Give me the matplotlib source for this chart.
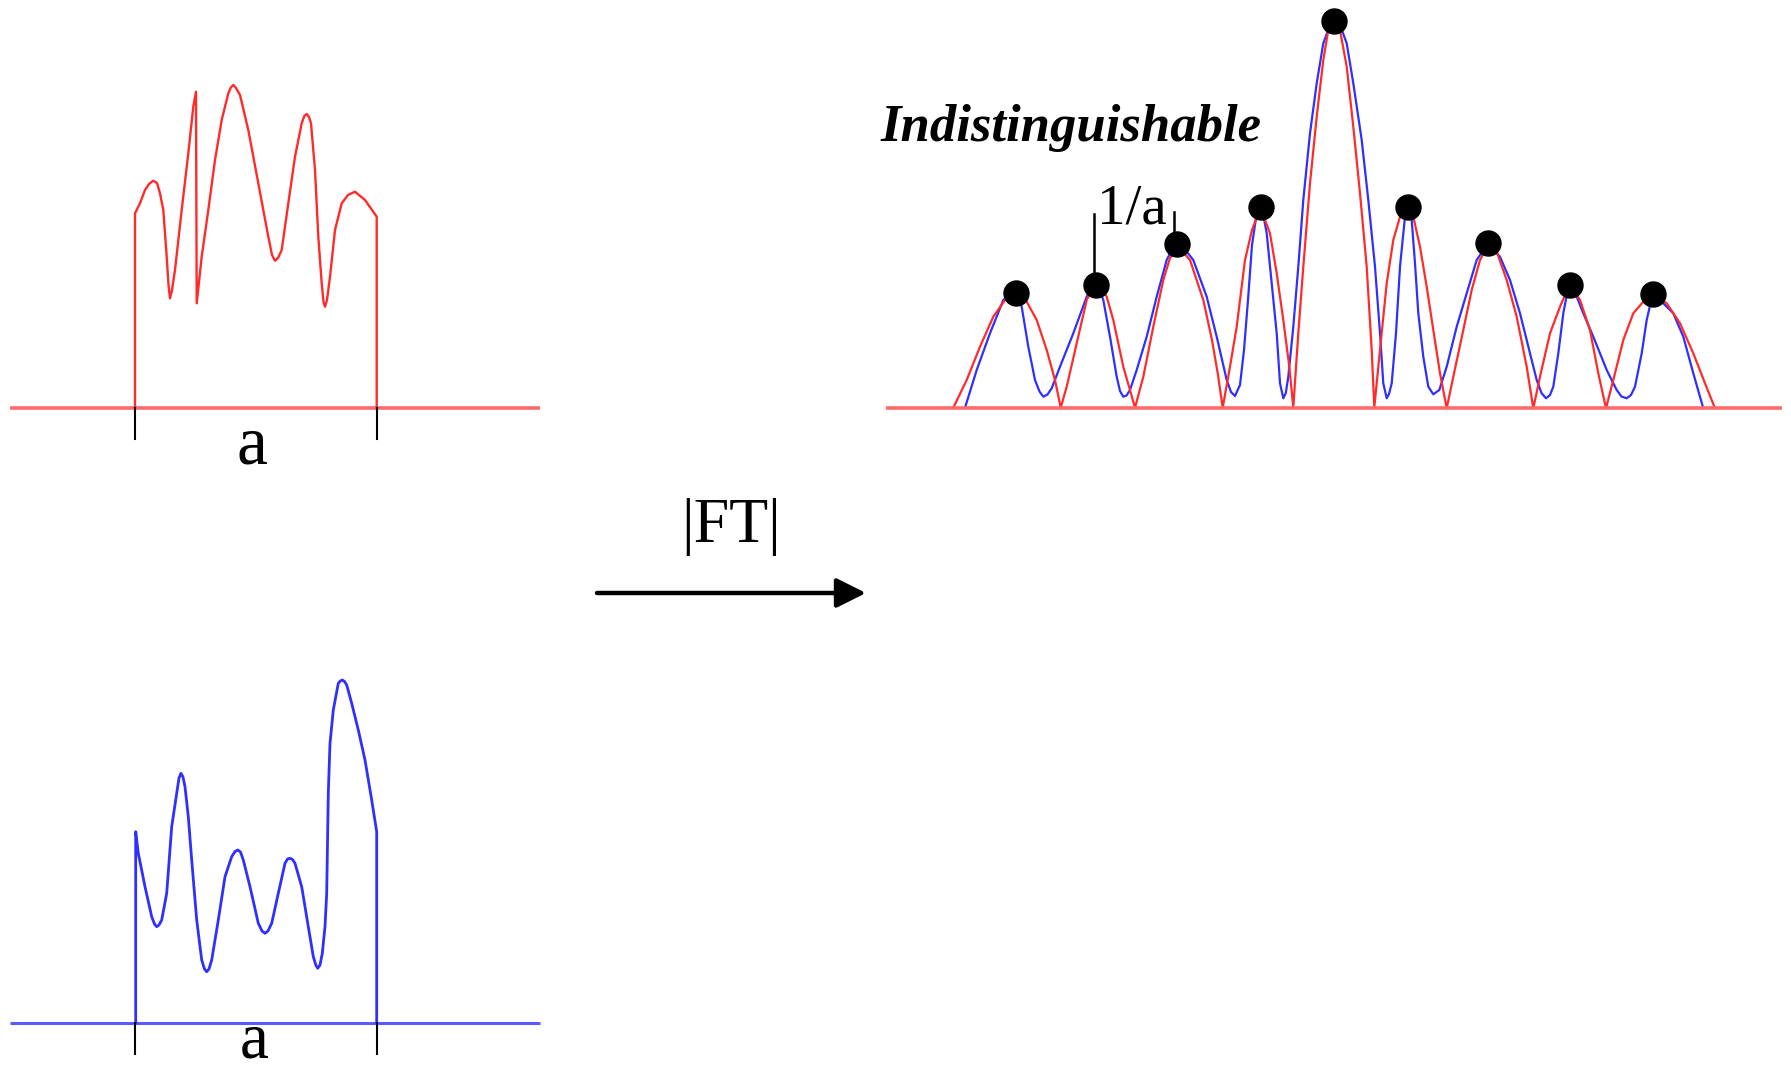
import matplotlib
matplotlib.use("Agg")
import matplotlib.pyplot as plt

# Diagram drawn in image pixel coordinates (x right, y down), 1791 x 1071

# Top-left: red object of width a
red_obj_x = [135, 135, 140, 145, 149, 153.3, 157, 160, 163.3, 166.7, 168.5, 170, 172,
             175, 181.7, 188.3, 193.3, 196, 196.7, 201.7, 208.3, 215, 221.7, 228.3,
             230.8, 233.3, 236, 240, 248.3, 258.3, 268.3, 272, 275, 278, 281.7, 288.3,
             295, 301.7, 304.3, 306.7, 309, 311, 315, 318.3, 321.7, 323.5, 325, 327,
             330, 335, 341.7, 348, 355, 365, 376.7, 376.7]
red_obj_y = [408.3, 213.3, 203.3, 190, 184, 180.7, 183, 193.3, 210, 256.7, 285, 298.3,
             290, 270, 210, 153.3, 106.7, 91.7, 303.3, 256.7, 210, 160, 120, 93.3,
             87.5, 85, 88, 95, 130, 183.3, 236.7, 255, 260.7, 258, 250, 203.3,
             156.7, 123.3, 116, 114, 117, 123.3, 170, 236.7, 283.3, 302, 306.7, 300,
             276.7, 230, 203.3, 195, 191.7, 200, 216.7, 408.3]

# Bottom-left: blue object of width a
blue_obj_x = [135.7, 135.7, 138.3, 145, 151.7, 154.5, 156.7, 159, 161.7, 166.7,
              171.7, 176.7, 179, 181, 183, 185, 188.3, 191.7, 196.7, 201.7, 204.5,
              206.7, 209, 211.7, 218.3, 225, 231.7, 235, 237.7, 240.5, 243.3, 250,
              258.3, 262, 265, 268, 271.7, 278.3, 285, 287.5, 290, 292.5, 295, 301.7,
              308.3, 313.3, 315.8, 317.7, 320, 322.3, 325, 326.7, 328.3, 330, 333.3,
              338.3, 340.3, 342.3, 344.5, 346.7, 351.7, 358.3, 365, 371.7, 376.7,
              376.7]
blue_obj_y = [1022.7, 831.7, 853.3, 886.7, 916.7, 924, 926.7, 925, 920, 893.3,
              826.7, 793.3, 778, 773.3, 777, 786.7, 816.7, 860, 920, 960, 969,
              971.7, 969, 960, 920, 876.7, 856.7, 851.5, 850, 852, 860, 886.7,
              923.3, 931, 933.3, 931, 923.3, 893.3, 863.3, 859, 858.3, 859.5,
              863.3, 886.7, 926.7, 956.7, 965, 968.3, 965, 953.3, 926.7, 893.3,
              793.3, 743.3, 710, 683.3, 681, 680, 681.5, 685, 703.3, 730, 760, 800,
              831.7, 1022.7]

# Right: |FT| of the red object
red_ft_x = [953.3, 966.7, 980, 993.3, 1005, 1010.5, 1016, 1021.5, 1026.7, 1036.7,
            1046.7, 1055, 1060.7,
            1066.7, 1076.7, 1086.7, 1092, 1096.7, 1101.5, 1106.7, 1113.3, 1123.3, 1135,
            1143.3, 1153.3, 1163.3, 1170, 1177, 1183.5, 1190, 1203.3, 1212, 1218, 1222.7,
            1230, 1236.7, 1245, 1252, 1256.5, 1260.7, 1265, 1270, 1276.7, 1283.3,
            1289.3, 1293.3,
            1298.3, 1303.3, 1310, 1316.7, 1323.3, 1328.3, 1334.3, 1340, 1346.7,
            1353.3, 1360, 1366.7, 1371.7, 1374.3,
            1380, 1386.7, 1393.3, 1400, 1404, 1408.3, 1413.3, 1420, 1426.7, 1433.3,
            1440, 1446.7,
            1453.3, 1463.3, 1471.7, 1480, 1484, 1488.3, 1492.5, 1496.7, 1506.7,
            1516.7, 1526.7, 1533.3,
            1540, 1550, 1560, 1565, 1570, 1575, 1580, 1590, 1598.3, 1606,
            1613.3, 1623.3, 1633.3, 1643.3, 1653.3, 1660, 1666.7, 1680, 1693.3, 1705,
            1715]
red_ft_y = [407.7, 380, 346.7, 316.7, 300, 296.5, 295, 297.5, 301.7, 320,
            350, 380, 407.7,
            386.7, 343.3, 300, 290, 286.7, 289, 296.7, 320, 366.7, 407.7,
            376.7, 326.7, 280, 258, 250, 252.5, 260, 300, 340, 375, 407.7,
            366.7, 326.7, 260, 230, 218, 213.3, 220, 233.3, 273.3, 320,
            366.7, 407.3,
            333.3, 266.7, 183.3, 116.7, 60, 30, 23.3, 30, 66.7,
            126.7, 193.3, 266.7, 350, 407.3,
            350, 283.3, 240, 216.7, 212.5, 211.7, 216.7, 246.7, 286.7, 330,
            373.3, 408.3,
            376.7, 330, 290, 260, 252.5, 250, 250.5, 251.7, 280,
            316.7, 366.7, 408.3,
            376.7, 333.3, 306.7, 295, 290, 292.5, 300, 330, 373.3, 408.3,
            380, 340, 313.3, 301.7, 298.3, 299.5, 303.3, 323.3, 353.3, 383.3,
            408.3]

# Right: |FT| of the blue object
blue_ft_x = [965, 976.7, 990, 1003.3, 1009.5, 1015, 1018.5, 1021.7, 1028.3, 1035,
             1039.5, 1043.3, 1047.5, 1051.7, 1060,
             1073.3, 1086.7, 1091, 1095, 1099, 1103.3, 1110, 1116.7, 1120, 1123.3,
             1126.5, 1130, 1136.7, 1146.7,
             1156.7, 1166.7, 1172, 1177, 1185, 1193.3, 1206.7, 1216.7, 1226.7, 1231,
             1235, 1240, 1244,
             1248, 1252, 1256, 1260, 1263.5, 1266.7, 1271.7, 1276.7, 1280, 1283.3,
             1285.8, 1288.3,
             1293.3, 1298.3, 1303.3, 1310, 1316.7, 1323.3, 1330, 1334.3, 1340, 1346.7,
             1353.3, 1361.7, 1368.3, 1375, 1380, 1383.3, 1386.7, 1389, 1391.7, 1396,
             1400, 1405, 1408.3, 1411.7, 1415, 1418.3, 1423.3, 1428.3, 1433.3, 1439.3,
             1446.7, 1456.7, 1466.7, 1476.7, 1482.5, 1488.3, 1494, 1500, 1510, 1520,
             1530, 1536.7, 1541.5, 1546, 1550, 1553.3, 1558.3, 1563.3, 1566.5, 1570,
             1576.7, 1583.3, 1593.3, 1606.7, 1616.7, 1621.5, 1626.7, 1631, 1635,
             1641.7, 1646.7, 1651.7, 1657.5, 1663.3, 1673.3, 1683.3, 1693.3, 1703.3]
blue_ft_y = [407.7, 370, 333.3, 300, 294.5, 293.3, 297, 306.7, 346.7, 380,
             391.5, 396.7, 394.5, 388.3, 366.7,
             333.3, 296.7, 288, 285, 289, 300, 336.7, 376.7, 391, 396.7,
             395.5, 390, 370, 336.7,
             296.7, 260, 249.5, 246, 249.5, 260, 296.7, 336.7, 380, 392,
             396, 385, 350,
             300, 245, 218, 210, 216, 233.3, 283.3, 333.3, 383.3, 398.3,
             393, 376.7,
             326.7, 266.7, 200, 133.3, 83.3, 43.3, 25, 21.7, 25, 43.3,
             83.3, 140, 200, 266.7, 333.3, 383.3, 398.3, 394, 383.3, 333.3,
             266.7, 216.7, 208.3, 220, 263.3, 313.3, 356.7, 386.7, 394.3, 390,
             366.7, 326.7, 293.3, 260, 251.5, 248.3, 250.5, 256.7, 280, 313.3,
             353.3, 380, 393, 398.3, 395, 386.7, 353.3, 313.3, 296.5, 290,
             296.7, 313.3, 336.7, 370, 390, 396.5, 398.3, 395, 386.7,
             353.3, 320, 298.3, 299.5, 303.3, 313.3, 336.7, 373.3, 408.3]

# Sampled points marked on the |FT| (spacing 1/a)
dot_x = [1016, 1096, 1177, 1260.5, 1334, 1408, 1488.3, 1570, 1652.7]
dot_y = [293.3, 285, 244, 207.3, 20.5, 207.3, 243, 285, 294]

# Axes lines and markers
red_base_x = [10, 539.5]
red_base_y = [408.3, 408.3]
blue_base_x = [10, 539.5]
blue_base_y = [1022.7, 1022.7]
ft_base_x = [886, 1782]
ft_base_y = [408, 408]
tick_x = [135, 376.5]

fig = plt.figure(figsize=(17.91, 10.71), dpi=100)
ax = fig.add_axes([0, 0, 1, 1])
ax.set_xlim(0, 1791)
ax.set_ylim(1071, 0)
ax.axis("off")

red = "#ff2b2b"
blue = "#2f2fff"

# left panels
ax.plot(red_base_x, red_base_y, color="#ff6a6a", lw=2.6, solid_capstyle="butt")
ax.plot(red_obj_x, red_obj_y, color=red, lw=1.7, solid_joinstyle="round")
ax.plot(blue_base_x, blue_base_y, color="#5a5aff", lw=2.2, solid_capstyle="butt")
ax.plot(blue_obj_x, blue_obj_y, color=blue, lw=2.0, solid_joinstyle="round")

for tx in tick_x:
    ax.plot([tx, tx], [408.3, 439], color="black", lw=1.5)
    ax.plot([tx, tx], [1022.7, 1053.5], color="black", lw=1.5)

ax.text(252, 447, "a", family="Liberation Serif", fontsize=50,
        ha="center", va="center")
ax.text(254, 1057, "a", family="Liberation Serif", fontsize=47,
        ha="center", va="baseline")

# transform arrow
ax.annotate("", xy=(866, 593), xytext=(597, 593),
            arrowprops=dict(arrowstyle="-|>", lw=3.2, color="black",
                            mutation_scale=45, shrinkA=0, shrinkB=0))
ax.text(731, 527, "|FT|", family="Liberation Serif", fontsize=46,
        ha="center", va="center")

# right panel
ax.plot(blue_ft_x, blue_ft_y, color=blue, lw=1.6, solid_joinstyle="round")
ax.plot(red_ft_x, red_ft_y, color=red, lw=1.6, solid_joinstyle="round")
ax.plot(ft_base_x, ft_base_y, color="#ff6a6a", lw=2.6, solid_capstyle="butt")
ax.plot(dot_x, dot_y, "o", color="black", ms=18, zorder=5)

ax.plot([1094.3, 1094.3], [214, 280], color="black", lw=1.8, zorder=6)
ax.plot([1174.3, 1174.3], [212, 236], color="black", lw=1.8, zorder=6)
ax.text(1097, 223, "1/a", family="Liberation Serif", fontsize=41,
        ha="left", va="baseline")

ax.text(1071, 141, "Indistinguishable", family="Liberation Serif",
        fontsize=38, fontweight="bold", fontstyle="italic",
        ha="center", va="baseline")

fig.savefig("out.png", dpi=100)
